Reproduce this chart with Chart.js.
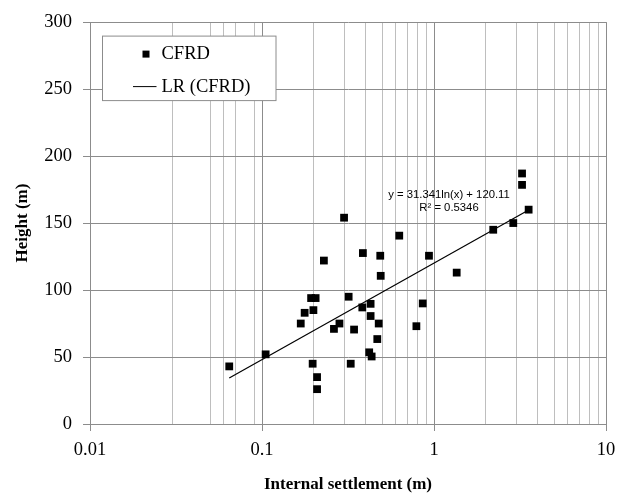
<!DOCTYPE html>
<html>
<head>
<meta charset="utf-8">
<script src="https://cdn.jsdelivr.net/npm/chart.js@4"></script>
<style>
html,body{margin:0;padding:0;background:#fff;}
#wrap{width:632px;height:493px;position:relative;}
</style>
</head>
<body>
<div id="wrap"><canvas id="c" width="632" height="493"></canvas></div>
<script>
// Internal settlement (m)
const settlement = [0.0645,0.105,0.168,0.177,0.193,0.205,0.199,0.197,0.209,0.209,0.229,0.262,0.282,0.30,0.319,0.328,0.343,0.383,0.386,0.428,0.428,0.42,0.434,0.468,0.477,0.487,0.49,0.628,0.79,0.86,0.935,1.355,2.21,2.89,3.25,3.25,3.55];
// Height (m)
const height = [43,52,75,83,94,94,85,45,35,26,122,71,75,154,95,45,70.5,87,127.6,89.7,80.6,53.5,50.4,63.4,75,125.6,110.6,140.6,73,90,125.6,113,145,150,187,178.5,160];
// Trend line end points LR (CFRD)
const trendX = [0.0645,3.55];
const trendY = [34.3,159.8];
// Axis ticks
const xGridValues = [0.01,0.03,0.05,0.06,0.07,0.09,0.1,0.2,0.3,0.4,0.5,0.6,0.7,0.8,0.9,1,2,3,4,5,6,7,8,9,10];
const xTickLabels = ['0.01','0.1','1','10'];
const yTicks = [0,50,100,150,200,250,300];
const seriesNames = ['CFRD','LR (CFRD)'];
const equationText = ['y = 31.341ln(x) + 120.11','R\u00B2 = 0.5346'];

const isDecade = v => Math.abs(Math.log10(v) - Math.round(Math.log10(v))) < 1e-9;

const overlay = {
  id:'overlay',
  afterDraw(chart){
    const ctx = chart.ctx, a = chart.chartArea;
    ctx.save();
    // legend box
    const lx = a.left + 12.5, ly = a.top + 14, lw = 173.5, lh = 64.5;
    ctx.fillStyle = '#fff';
    ctx.fillRect(lx, ly, lw, lh);
    ctx.strokeStyle = '#8c8c8c';
    ctx.lineWidth = 1;
    ctx.strokeRect(lx, ly, lw, lh);
    ctx.fillStyle = '#000';
    ctx.fillRect(lx + 40, ly + 14.5, 7, 7);
    ctx.beginPath();
    ctx.moveTo(lx + 30.5, ly + 50.5);
    ctx.lineTo(lx + 54, ly + 50.5);
    ctx.strokeStyle = '#000';
    ctx.stroke();
    ctx.font = '18.5px "Liberation Serif"';
    ctx.textBaseline = 'middle';
    ctx.textAlign = 'left';
    ctx.fillText(seriesNames[0], lx + 59, ly + 18);
    ctx.fillText(seriesNames[1], lx + 59, ly + 51);
    // equation
    ctx.font = '11.3px "Liberation Sans"';
    ctx.textAlign = 'center';
    ctx.fillText(equationText[0], 449, 195);
    ctx.fillText(equationText[1], 449, 207.5);
    ctx.restore();
  }
};

new Chart(document.getElementById('c'), {
  type:'scatter',
  data:{
    datasets:[
      {
        label:seriesNames[0],
        data:settlement.map((x,i)=>({x:x,y:height[i]})),
        pointStyle:'rect',
        pointRadius:5.5,
        pointBorderWidth:0,
        backgroundColor:'#000',
        borderColor:'#000',
        order:1
      },
      {
        label:seriesNames[1],
        type:'line',
        data:trendX.map((x,i)=>({x:x,y:trendY[i]})),
        borderColor:'#000',
        borderWidth:1.2,
        pointRadius:0,
        fill:false,
        order:2
      }
    ]
  },
  options:{
    responsive:false,
    animation:false,
    layout:{padding:{left:0,right:26,top:17.5,bottom:0}},
    plugins:{legend:{display:false},tooltip:{enabled:false}},
    scales:{
      x:{
        type:'logarithmic',
        min:0.01,max:10,
        afterBuildTicks(s){ s.ticks = xGridValues.map(v=>({value:v})); },
        afterFit(s){ s.height = 69; },
        ticks:{
          autoSkip:false,maxRotation:0,minRotation:0,
          padding:8,color:'#000',
          font:{family:'"Liberation Serif"',size:18.5},
          callback(v){ return isDecade(v) ? xTickLabels[Math.round(Math.log10(v))+2] : ''; }
        },
        grid:{
          color:c=> (c.tick && isDecade(c.tick.value)) ? '#8c8c8c' : '#bebebe',
          tickColor:c=> (c.tick && isDecade(c.tick.value)) ? '#8c8c8c' : 'rgba(0,0,0,0)',
          tickLength:7,
          lineWidth:1
        },
        border:{color:'#8c8c8c'},
        title:{display:true,text:'Internal settlement (m)',color:'#000',
          font:{family:'"Liberation Serif"',size:17,weight:'bold',lineHeight:1.0},padding:{top:0,bottom:0}}
      },
      y:{
        min:0,max:300,
        afterBuildTicks(s){ s.ticks = yTicks.map(v=>({value:v})); },
        afterFit(s){ s.width = 90; },
        ticks:{
          padding:11,color:'#000',
          font:{family:'"Liberation Serif"',size:18.5}
        },
        grid:{color:'#8c8c8c',tickColor:'#8c8c8c',tickLength:7,lineWidth:1},
        border:{color:'#8c8c8c'},
        title:{display:true,text:'Height (m)',color:'#000',
          font:{family:'"Liberation Serif"',size:17,weight:'bold'},padding:{top:12,bottom:0}}
      }
    }
  },
  plugins:[overlay]
});
</script>
</body>
</html>
